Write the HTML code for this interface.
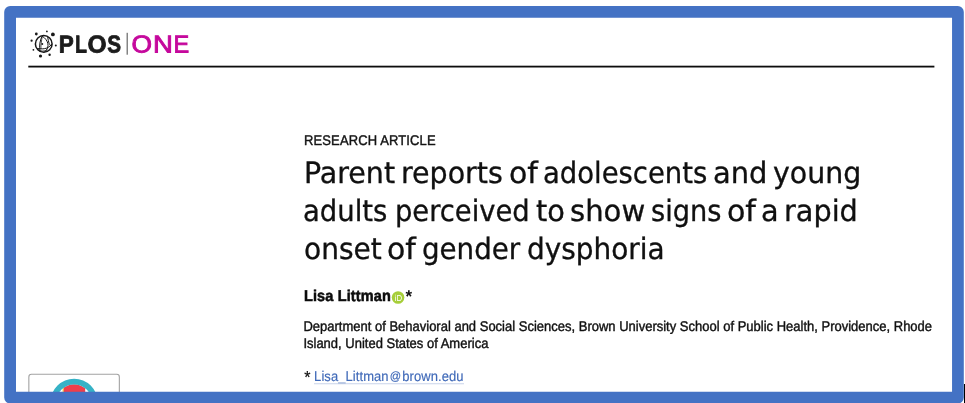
<!DOCTYPE html>
<html lang="en">
<head>
<meta charset="utf-8">
<title>PLOS ONE</title>
<style>
html,body{margin:0;padding:0;background:#fff;}
body{width:965px;height:403px;position:relative;overflow:hidden;font-family:"Liberation Sans",sans-serif;color:#111;}
.frame{position:absolute;left:0;top:0;}
.abs{position:absolute;white-space:nowrap;text-rendering:geometricPrecision;}
.kicker{left:304px;top:132px;font-size:13px;letter-spacing:0.12px;line-height:16px;color:#141414;-webkit-text-stroke:0.4px #141414;transform-origin:0 0;transform:scaleY(1.08);}
.tl{text-rendering:geometricPrecision;position:absolute;left:0;width:965px;height:38px;font-family:"DejaVu Sans Condensed","DejaVu Sans",sans-serif;font-size:29px;line-height:38px;color:#101010;-webkit-text-stroke:0.3px #101010;}
.tl span{position:absolute;top:0;transform-origin:0 0;white-space:pre;}
.author{left:303.9px;top:287px;font-size:14.5px;font-weight:bold;line-height:18px;color:#0c0c0c;letter-spacing:0.15px;-webkit-text-stroke:0.5px #0c0c0c;transform-origin:0 0;transform:scaleY(1.07);}
.aff{left:303.4px;font-size:13px;line-height:17px;color:#111;-webkit-text-stroke:0.38px #111;transform-origin:0 0;transform:scaleY(1.08);}
a.mail{position:relative;color:#3f69b8;-webkit-text-stroke:0.15px #3f69b8;text-decoration:none;letter-spacing:0.07px;}
a.mail::after{content:"";position:absolute;left:0;right:0;top:13.9px;height:1px;background:#cdd6ec;}
.st2{display:inline-block;width:9.8px;font-size:16px;line-height:17px;vertical-align:-2.3px;margin-left:0.9px;-webkit-text-stroke:0.2px #111}
.at{display:inline-block;width:13.6px;text-align:center;font-size:11.2px;letter-spacing:0;position:relative;top:-0.7px;left:0.1px}
</style>
</head>
<body>
<svg class="abs" style="left:0;top:360px" width="140" height="43" viewBox="0 360 140 43">
<clipPath id="cmc"><circle cx="74.1" cy="402.2" r="17.9"/></clipPath>
<rect x="28.85" y="374.3" width="90.5" height="34" rx="2.6" fill="#fff" stroke="#a2a2a2" stroke-width="1.1"/>
<rect x="62.6" y="380" width="3" height="24" fill="#f3c14b" clip-path="url(#cmc)"/>
<rect x="63.9" y="380" width="21.3" height="24" fill="#ef3e4a" clip-path="url(#cmc)"/>
<circle cx="74.1" cy="402.2" r="20.65" fill="none" stroke="#36b2c6" stroke-width="5.7"/>
</svg>
<svg class="frame" width="965" height="403" viewBox="0 0 965 403"><path fill="#4472c4" fill-rule="evenodd" d="M10.2 6H957.8A6 6 0 0 1 963.8 12V397.5A6 6 0 0 1 957.8 403.5H10.2A6 6 0 0 1 4.2 397.5V12A6 6 0 0 1 10.2 6ZM16 17.7V391.8H952.05V17.7Z"/></svg>
<svg class="abs" style="left:24px;top:24px" width="180" height="40" viewBox="24 24 180 40">
<circle cx="43.75" cy="43.9" r="8.35" fill="none" stroke="#161616" stroke-width="1.5"/>
<g fill="none" stroke="#161616" stroke-width="1" stroke-linecap="round">
<path d="M42.3 35.8C39.8 40 39 46 40 51.4"/>
<path d="M42.3 36.2C41.4 41 40.8 45 40.9 48.6" stroke-width="0.75"/>
<path d="M42.6 36.4C47.4 39.4 51.2 46.5 44.6 52.1"/>
<path d="M37.6 48.5C42 49.2 47.6 49.6 51.6 44.4"/>
<path d="M38 49.8C41 51.4 44.4 51.6 47 50" stroke-width="0.75"/>
<path d="M47.4 36.4C48.6 40 48.2 44.6 51.6 46.4"/>
</g>
<circle cx="42.3" cy="44" r="0.95" fill="#1a1a1a"/>
<circle cx="36.3" cy="34" r="1.4" fill="#1a1a1a"/>
<circle cx="46.9" cy="31.4" r="0.9" fill="#1a1a1a"/>
<circle cx="52.9" cy="34.4" r="1.9" fill="#1a1a1a"/>
<circle cx="31.6" cy="40.7" r="1.1" fill="#1a1a1a"/>
<circle cx="55.8" cy="45.6" r="1" fill="#1a1a1a"/>
<circle cx="33.4" cy="49.8" r="0.9" fill="#1a1a1a"/>
<circle cx="40.5" cy="56" r="1.6" fill="#1a1a1a"/>
<circle cx="49.6" cy="54.8" r="1.2" fill="#1a1a1a"/>
<text y="52.6" transform="rotate(0.1 90 52.6)" font-family="Liberation Sans, sans-serif" font-weight="bold" font-size="24.5" fill="#1c1c1c" stroke="#1c1c1c" stroke-width="0.8" stroke-linejoin="round" text-rendering="geometricPrecision"><tspan x="58.83" textLength="15" lengthAdjust="spacingAndGlyphs">P</tspan><tspan x="74.9" textLength="11.98" lengthAdjust="spacingAndGlyphs">L</tspan><tspan x="87.42" textLength="19.06" lengthAdjust="spacingAndGlyphs">O</tspan><tspan x="107.18" textLength="13.78" lengthAdjust="spacingAndGlyphs">S</tspan></text>
<rect x="126.6" y="32.8" width="1.2" height="21.9" fill="#666"/>
<text y="52.6" transform="rotate(0.1 160 52.6)" font-family="Liberation Sans, sans-serif" font-size="24.5" fill="#c5089c" stroke="#c5089c" stroke-width="0.9" text-rendering="geometricPrecision"><tspan x="131.63" textLength="20.47" lengthAdjust="spacingAndGlyphs">O</tspan><tspan x="152.9" textLength="19.85" lengthAdjust="spacingAndGlyphs">N</tspan><tspan x="173.47" textLength="15.69" lengthAdjust="spacingAndGlyphs">E</tspan></text>
</svg>
<svg class="abs" style="left:0;top:60px" width="965" height="12" viewBox="0 60 965 12"><rect x="28.3" y="65.7" width="906.1" height="1.8" fill="#0d0d0d"/></svg>
<div class="abs kicker">RESEARCH ARTICLE</div>
<div class="tl" style="top:153.10px"><span style="left:303.57px;transform:scale(1.0932,1.018)">Parent </span><span style="left:400.94px;transform:scale(1.0919,1.018)">reports </span><span style="left:508.87px;transform:scale(1.1469,1.018)">of </span><span style="left:543.32px;transform:scale(1.0521,1.018)">adolescents </span><span style="left:713.24px;transform:scale(1.1094,1.018)">and </span><span style="left:772.88px;transform:scale(1.0885,1.018)">young </span></div>
<div class="tl" style="top:190.60px"><span style="left:303.32px;transform:scale(1.0516,1.018)">adults </span><span style="left:394.54px;transform:scale(1.0484,1.018)">perceived </span><span style="left:535.65px;transform:scale(1.1020,1.018)">to </span><span style="left:570.11px;transform:scale(1.1154,1.018)">show </span><span style="left:650.50px;transform:scale(1.0431,1.018)">signs </span><span style="left:726.96px;transform:scale(1.1510,1.018)">of </span><span style="left:761.35px;transform:scale(1.1020,1.018)">a </span><span style="left:783.82px;transform:scale(1.1008,1.018)">rapid </span></div>
<div class="tl" style="top:228.65px"><span style="left:303.56px;transform:scale(1.0742,1.018)">onset </span><span style="left:387.07px;transform:scale(1.1469,1.018)">of </span><span style="left:421.57px;transform:scale(1.0612,1.018)">gender </span><span style="left:526.96px;transform:scale(1.0707,1.018)">dysphoria </span></div>
<div class="abs author">Lisa Littman</div>
<svg class="abs" style="left:390px;top:289px" width="16" height="17" viewBox="390 289 16 17"><circle cx="398.05" cy="297.5" r="6.3" fill="#a6ce39"/><text x="394.7" y="300.8" font-family="Liberation Sans, sans-serif" font-size="8.6" fill="#fff" textLength="7.4" lengthAdjust="spacingAndGlyphs">iD</text></svg>
<div class="abs star" style="left:405.4px;top:286.6px;font-size:17px;font-weight:bold;line-height:20px">*</div>
<div class="abs aff" style="top:317px">Department of Behavioral and Social Sciences, Brown University School of Public Health, Providence, Rhode</div>
<div class="abs aff" style="top:334px">Island, United States of America</div>
<div class="abs aff" style="top:367px"><span class="st2">*</span><a class="mail">Lisa_Littman<span class="at">@</span>brown.edu</a></div>
<div style="position:absolute;left:963.9px;top:384.1px;width:1.2px;height:19px;background:#000"></div>
</body>
</html>
